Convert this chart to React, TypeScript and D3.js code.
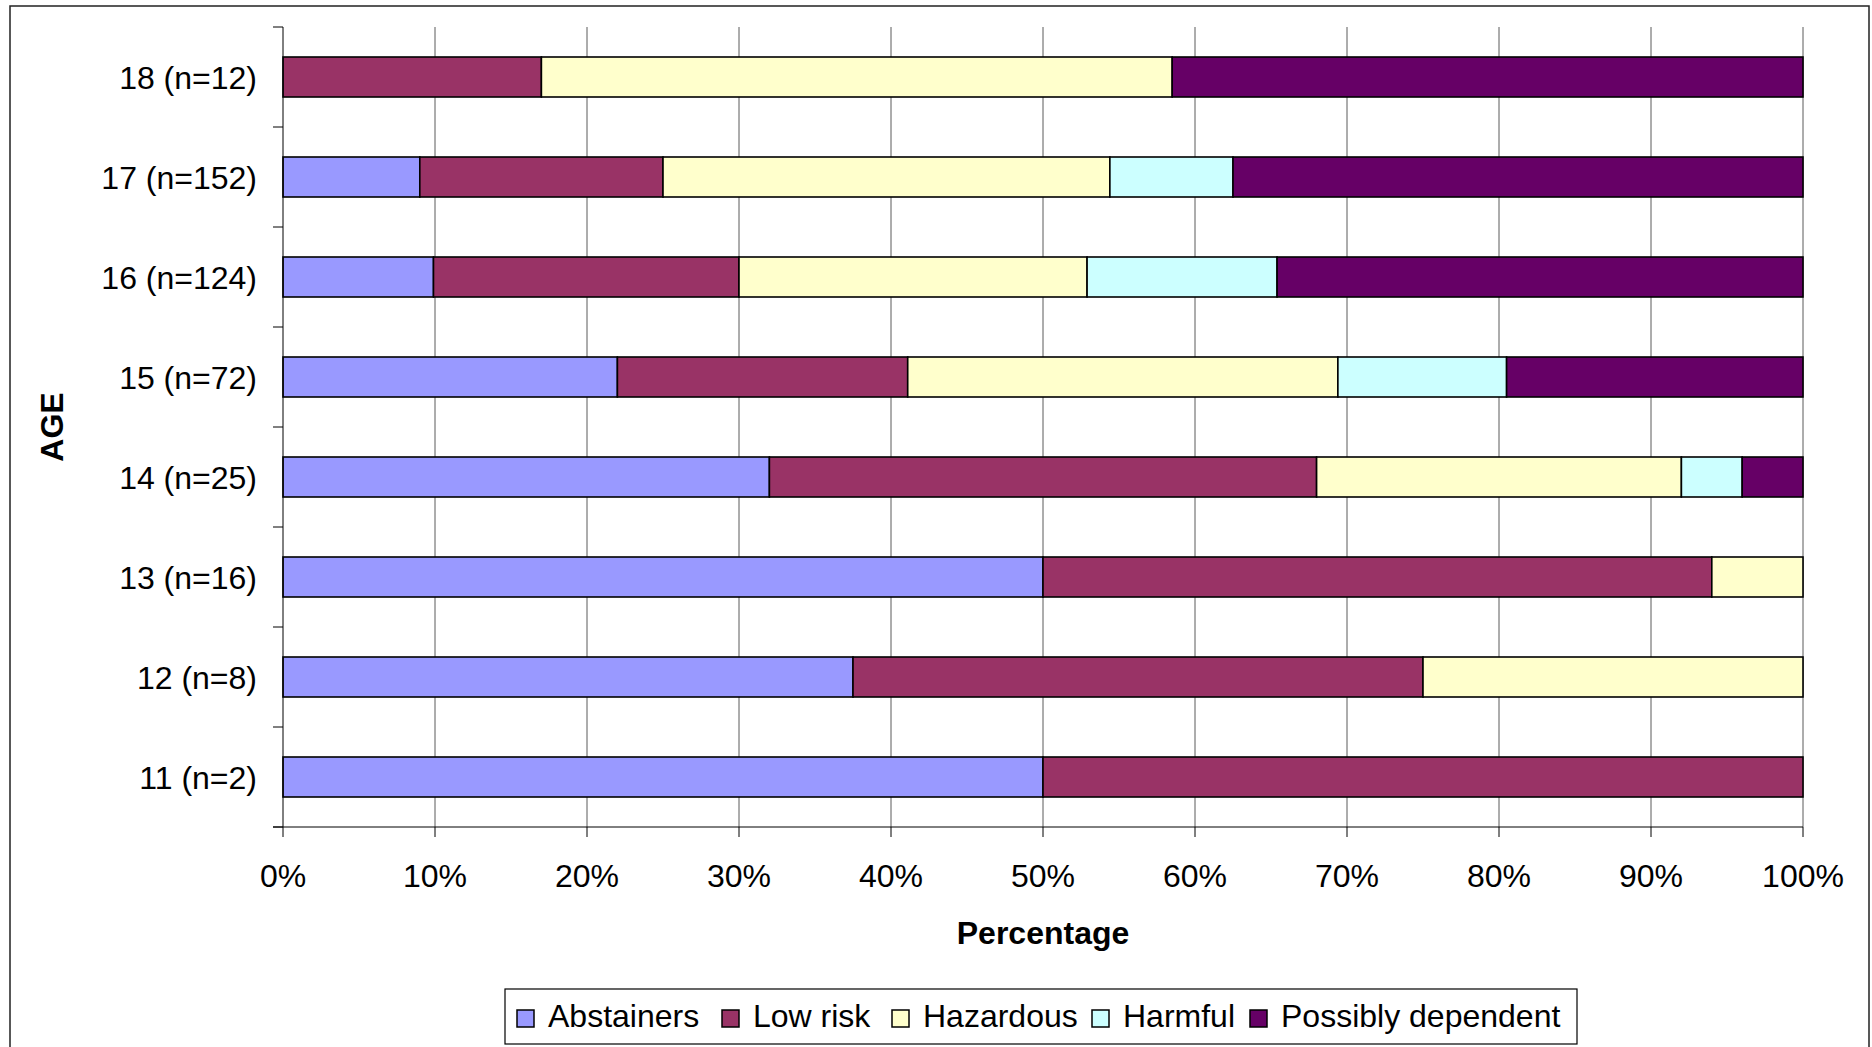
import React from "react";
import * as d3 from "d3";

const categories = [
  "18 (n=12)",
  "17 (n=152)",
  "16 (n=124)",
  "15 (n=72)",
  "14 (n=25)",
  "13 (n=16)",
  "12 (n=8)",
  "11 (n=2)",
];
const seriesNames = ["Abstainers", "Low risk", "Hazardous", "Harmful", "Possibly dependent"];
const seriesColors = ["#9999FF", "#993366", "#FFFFCC", "#CCFFFF", "#660066"];

const abstainers = [0, 9.0, 9.9, 22.0, 32, 50, 37.5, 50];
const lowRisk = [17.0, 16.0, 20.1, 19.1, 36, 44, 37.5, 50];
const hazardous = [41.5, 29.4, 22.9, 28.3, 24, 6, 25, 0];
const harmful = [0, 8.1, 12.5, 11.1, 4, 0, 0, 0];
const possiblyDependent = [41.5, 37.5, 34.6, 19.5, 4, 0, 0, 0];

const xTicks = [0, 10, 20, 30, 40, 50, 60, 70, 80, 90, 100];

const W = 1872;
const H = 1047;
const left = 283;
const right = 1803;
const top = 27;
const bottom = 827;
const FONT = "Arial, 'Liberation Sans', sans-serif";

const legendX = [517, 722, 892, 1092, 1250];

export default function App() {
  const seriesValues = [abstainers, lowRisk, hazardous, harmful, possiblyDependent];
  const rows = categories.map((c, i) => {
    const r: any = { cat: c };
    seriesNames.forEach((s, k) => (r[s] = seriesValues[k][i]));
    return r;
  });
  const stacked = d3.stack().keys(seriesNames)(rows);

  const x = d3.scaleLinear().domain([0, 100]).range([left, right]);
  const y = d3.scaleBand().domain(categories).range([top, bottom]).paddingInner(0.6).paddingOuter(0.3);
  const step = y.step();
  const boundaries = d3.range(categories.length + 1).map((i) => top + i * step);

  return (
    <svg
      width={W}
      height={H}
      style={{ position: "fixed", left: 0, top: 0, background: "#fff" }}
      fontFamily={FONT}
    >
      <rect x={0} y={0} width={W} height={H} fill="#fff" />
      {/* outer border (bottom edge cut off) */}
      <path d={`M10,${H + 5} L10,6 L1869,6 L1869,${H + 5}`} fill="none" stroke="#222" strokeWidth={1.5} />

      {/* gridlines */}
      {xTicks.slice(1).map((t) => (
        <line key={"g" + t} x1={x(t)} x2={x(t)} y1={top} y2={bottom} stroke="#5a5a5a" strokeWidth={1} />
      ))}

      {/* bars */}
      {stacked.map((layer, k) => (
        <g key={layer.key} fill={seriesColors[k]}>
          {layer.map((d: any, i: number) =>
            d[1] - d[0] > 0 ? (
              <rect
                key={i}
                x={x(d[0])}
                y={y(d.data.cat)}
                width={x(d[1]) - x(d[0])}
                height={y.bandwidth()}
                stroke="#000"
                strokeWidth={1.6}
              />
            ) : null
          )}
        </g>
      ))}

      {/* y axis */}
      <line x1={left} x2={left} y1={top} y2={bottom} stroke="#000" strokeWidth={1} />
      {boundaries.map((b, i) => (
        <line key={"yt" + i} x1={left - 10} x2={left} y1={b} y2={b} stroke="#000" strokeWidth={1} />
      ))}
      {categories.map((c) => (
        <text
          key={c}
          x={257}
          y={(y(c) as number) + y.bandwidth() / 2 + 12}
          textAnchor="end"
          fontSize={32}
          fill="#000"
        >
          {c}
        </text>
      ))}

      {/* x axis */}
      <line x1={left - 10} x2={right} y1={bottom} y2={bottom} stroke="#000" strokeWidth={1} />
      {xTicks.map((t) => (
        <g key={"xt" + t}>
          <line x1={x(t)} x2={x(t)} y1={bottom} y2={bottom + 10} stroke="#000" strokeWidth={1} />
          <text x={x(t)} y={887} textAnchor="middle" fontSize={32} fill="#000">
            {t + "%"}
          </text>
        </g>
      ))}

      {/* axis titles */}
      <text x={(left + right) / 2} y={944} textAnchor="middle" fontSize={32} fontWeight="bold" fill="#000">
        Percentage
      </text>
      <text
        transform={`translate(63, ${(top + bottom) / 2}) rotate(-90)`}
        textAnchor="middle"
        fontSize={32}
        fontWeight="bold"
        fill="#000"
      >
        AGE
      </text>

      {/* legend */}
      <rect x={505} y={989} width={1072} height={55} fill="#fff" stroke="#000" strokeWidth={1.2} />
      {seriesNames.map((s, k) => (
        <g key={"lg" + s}>
          <rect x={legendX[k]} y={1010} width={17} height={17} fill={seriesColors[k]} stroke="#000" strokeWidth={1.5} />
          <text x={legendX[k] + 31} y={1027} fontSize={32} fill="#000">
            {s}
          </text>
        </g>
      ))}
    </svg>
  );
}
